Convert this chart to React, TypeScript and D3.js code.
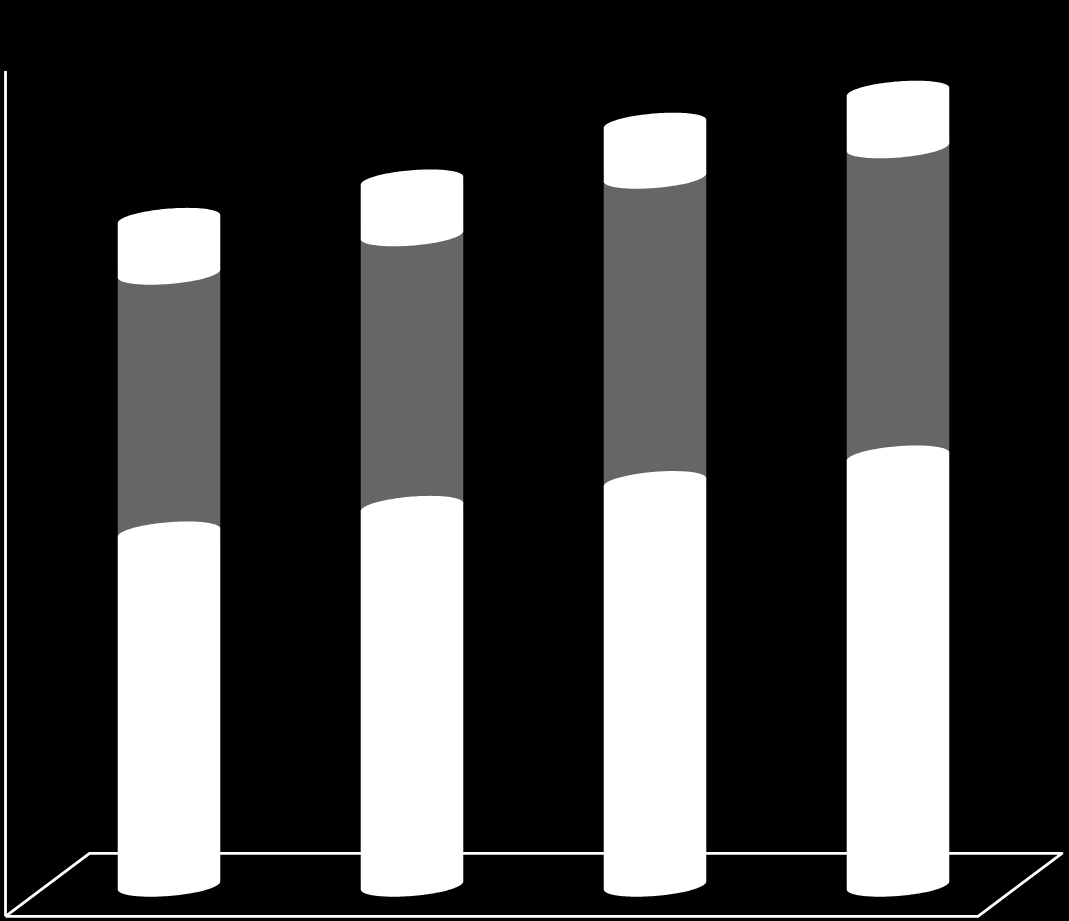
// App.tsx
import React from 'react';
import * as d3 from 'd3';

// No labels survive in the picture, so categories are just positional
const categories = ['1', '2', '3', '4'];
const lowerValues = [441, 473, 504, 536];
const middleValues = [324, 340, 381, 387];
const upperValues = [68, 68, 67, 69];

const width = 1069;
const height = 921;

const WHITE = '#ffffff';
const GREY = '#666666';

// painted grey first: the white caps bulge over it from both sides
const seriesList = [
  { key: 'middle', color: GREY },
  { key: 'lower', color: WHITE },
  { key: 'upper', color: WHITE },
];

const rows = categories.map((c, i) => ({
  category: c,
  lower: lowerValues[i],
  middle: middleValues[i],
  upper: upperValues[i],
}));

const stacked = d3.stack<any>().keys(['lower', 'middle', 'upper'])(rows);

const x = d3.scaleBand<string>().domain(categories).range([47.5, 1019.5]).paddingInner(0.578).paddingOuter(0.289);
const y = d3.scaleLinear().domain([0, 1000]).range([885.5, 85.5]);

// the 3D view: wall and floor box
const depthX = 84;
const depthY = 63;
const wall = { left: 5.5, top: 71, bottom: 916.3, right: 978 };

const capB = 10.5; // vertical radius of the cap
const capTilt = 4; // right side sits higher than the left

const arcLine = d3.line<[number, number]>().x((d) => d[0]).y((d) => d[1]);

// silhouette of a tilted cylinder between two values
const cylinderPath = (cat: string, y0: number, y1: number) => {
  const a = x.bandwidth() / 2;
  const cx = (x(cat) as number) + a;
  const point = (t: number, yc: number): [number, number] => [
    cx + a * Math.cos(t),
    yc + capB * Math.sin(t) - capTilt * Math.cos(t),
  ];
  const steps = d3.range(0, 61).map((i) => (i / 60) * Math.PI);
  // back arc of the top ellipse runs left to right, front arc of the bottom right to left
  const topArc = steps.map((t) => point(Math.PI + t, y(y1)));
  const bottomArc = steps.map((t) => point(t, y(y0)));
  return `${arcLine([...topArc, ...bottomArc])}Z`;
};

const App = () => {
  const floor = d3.line<[number, number]>()([
    [wall.left, wall.bottom],
    [wall.right, wall.bottom],
    [wall.right + depthX, wall.bottom - depthY],
    [wall.left + depthX, wall.bottom - depthY],
    [wall.left, wall.bottom],
  ]);
  const leftWall = d3.line<[number, number]>()([
    [wall.left, wall.top],
    [wall.left, wall.bottom],
  ]);

  return (
    <svg
      width={width}
      height={height}
      viewBox={`0 0 ${width} ${height}`}
      style={{ position: 'absolute', top: 0, left: 0, background: '#000000', display: 'block' }}
    >
      <rect width={width} height={height} fill="#000000" />
      <path d={leftWall as string} fill="none" stroke={WHITE} strokeWidth={2.8} />
      <path d={floor as string} fill="none" stroke={WHITE} strokeWidth={2.8} strokeLinejoin="round" />
      {seriesList.map((s) => {
        const layer = stacked.find((l) => l.key === s.key)!;
        return (
          <g key={s.key}>
            {layer.map((d, i) => (
              <path key={categories[i]} d={cylinderPath(categories[i], d[0], d[1])} fill={s.color} />
            ))}
          </g>
        );
      })}
    </svg>
  );
};

export default App;
